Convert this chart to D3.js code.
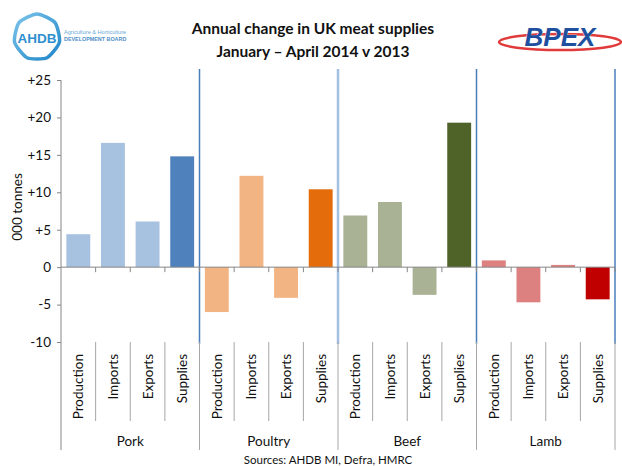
<!DOCTYPE html>
<html>
<head>
<meta charset="utf-8">
<script src="https://cdn.jsdelivr.net/npm/d3@7/dist/d3.min.js"></script>
<style>
  html, body { margin: 0; padding: 0; background: #fff; }
  svg { display: block; font-family: Lato, "Liberation Sans", sans-serif; }
</style>
</head>
<body>
<svg id="chart" width="622" height="466"></svg>
<script>
// Meat types (outer category level) and measures (inner level)
const meats = ["Pork", "Poultry", "Beef", "Lamb"];
const measures = ["Production", "Imports", "Exports", "Supplies"];

// Annual change, Jan–Apr 2014 vs 2013, thousand tonnes
const pork    = [4.4, 16.6, 6.1, 14.8];
const poultry = [-6.0, 12.2, -4.1, 10.4];
const beef    = [6.9, 8.7, -3.7, 19.3];
const lamb    = [0.9, -4.7, 0.3, -4.3];

const yTicks = [-10, -5, 0, 5, 10, 15, 20, 25];

// Light shade for flows, strong shade for total supplies
const lightColours  = ["#a7c1e0", "#f3b483", "#a9b294", "#dc8080"];
const strongColours = ["#4f81bd", "#e46c0a", "#4f6228", "#c00000"];

const seriesByMeat = [pork, poultry, beef, lamb];
const rows = [];
meats.forEach((m, gi) => {
  measures.forEach((k, ki) => {
    rows.push({ meat: m, measure: k, gi, ki, key: m + "|" + k, value: seriesByMeat[gi][ki] });
  });
});

const svg = d3.select("#chart");
const plotLeft = 61, plotRight = 615, plotTop = 80, plotBottom = 342;

const x = d3.scaleBand().domain(rows.map(d => d.key)).range([plotLeft, plotRight])
  .paddingInner(0.31).paddingOuter(0.155);
const step = x.step();
const y = d3.scaleLinear().domain([-10, 25]).range([plotBottom, plotTop]);

// Title
const title = svg.append("text").attr("text-anchor", "middle").attr("font-weight", "bold")
  .attr("font-size", 15.5).attr("fill", "#111");
title.append("tspan").attr("x", 313).attr("y", 34).text("Annual change in UK meat supplies");
title.append("tspan").attr("x", 313).attr("y", 57).text("January – April 2014 v 2013");

// AHDB logo
const ahdb = svg.append("g");
const ringGrad = svg.append("defs").append("linearGradient").attr("id", "ring")
  .attr("x1", 0).attr("y1", 0).attr("x2", 1).attr("y2", 1);
ringGrad.append("stop").attr("offset", 0).attr("stop-color", "#7cc4ea");
ringGrad.append("stop").attr("offset", 1).attr("stop-color", "#1f86c8");
const hexPts = d3.range(7).map(i => {
  const a = -Math.PI / 2 + i * Math.PI * 2 / 7;
  return [37 + 23 * Math.cos(a), 37 + 23 * Math.sin(a)];
});
ahdb.append("path").attr("d", d3.line().curve(d3.curveCardinalClosed.tension(0.35))(hexPts))
  .attr("fill", "none").attr("stroke", "url(#ring)").attr("stroke-width", 3.5);
ahdb.append("text").attr("x", 37).attr("y", 42.5).attr("text-anchor", "middle")
  .attr("font-family", "'Liberation Sans', sans-serif").attr("font-weight", "bold")
  .attr("font-size", 13.5).attr("fill", "#2f8fcf").text("AHDB");
ahdb.append("text").attr("x", 64).attr("y", 34).attr("font-size", 5.6).attr("fill", "#6aa9d8")
  .attr("font-family", "'Liberation Sans', sans-serif").text("Agriculture & Horticulture");
ahdb.append("text").attr("x", 64).attr("y", 41).attr("font-size", 5.4).attr("fill", "#4f8fc9")
  .attr("font-family", "'Liberation Sans', sans-serif").attr("font-weight", "bold").text("DEVELOPMENT BOARD");

// BPEX logo
const bpex = svg.append("g");
bpex.append("ellipse").attr("cx", 560).attr("cy", 42).attr("rx", 61).attr("ry", 8)
  .attr("fill", "none").attr("stroke", "#e03a3a").attr("stroke-width", 2.5);
bpex.append("text").attr("x", 560).attr("y", 46).attr("text-anchor", "middle")
  .attr("font-family", "'Liberation Sans', sans-serif").attr("font-weight", "bold")
  .attr("font-style", "italic").attr("font-size", 26).attr("fill", "#1f50a0")
  .attr("stroke", "#fff").attr("stroke-width", 0.6).attr("paint-order", "stroke").text("BPEX");

// Bars
svg.append("g").selectAll("rect").data(rows).join("rect")
  .attr("x", d => x(d.key))
  .attr("width", x.bandwidth())
  .attr("y", d => y(Math.max(0, d.value)))
  .attr("height", d => Math.abs(y(d.value) - y(0)))
  .attr("fill", d => d.measure === "Supplies" ? strongColours[d.gi] : lightColours[d.gi]);

// Group dividers running through the plot
const groupEdges = meats.map((m, gi) => plotLeft + gi * 4 * step).slice(1).concat([plotRight]);
const dividerStyle = [
  { c: "#4a7ebb", w: 1.5 }, { c: "#a3bfe2", w: 2.5 }, { c: "#4a7ebb", w: 1.5 }, { c: "#4a7ebb", w: 1.5 }
];
svg.append("g").selectAll("line").data(groupEdges).join("line")
  .attr("x1", d => d).attr("x2", d => d)
  .attr("y1", plotTop - 11).attr("y2", plotBottom + 2)
  .attr("stroke", (d, i) => dividerStyle[i].c).attr("stroke-width", (d, i) => dividerStyle[i].w);

// Y axis
const yAxis = svg.append("g").attr("transform", `translate(${plotLeft},0)`)
  .call(d3.axisLeft(y).tickValues(yTicks).tickSize(4).tickPadding(6)
    .tickFormat(d => d > 0 ? "+" + d : String(d)));
yAxis.select(".domain").remove();
yAxis.selectAll(".tick line").attr("stroke", "#868686");
yAxis.selectAll("text").attr("font-size", 13.5).attr("fill", "#111")
  .attr("font-family", "Lato, 'Liberation Sans', sans-serif");
svg.append("line").attr("x1", plotLeft).attr("x2", plotLeft).attr("y1", plotTop).attr("y2", 450)
  .attr("stroke", "#868686");

// Zero line with category ticks
svg.append("line").attr("x1", plotLeft).attr("x2", plotRight).attr("y1", y(0)).attr("y2", y(0))
  .attr("stroke", "#868686");
const catEdges = d3.range(1, rows.length + 1).map(i => plotLeft + i * step);
svg.append("g").selectAll("line").data(catEdges).join("line")
  .attr("x1", d => d).attr("x2", d => d).attr("y1", y(0)).attr("y2", y(0) + 5)
  .attr("stroke", "#868686");

// Multi-level category labels below the plot
const labelTop = plotBottom;
svg.append("g").selectAll("line").data(catEdges).join("line")
  .attr("x1", d => d).attr("x2", d => d)
  .attr("y1", labelTop).attr("y2", (d, i) => (i + 1) % 4 === 0 ? 450 : 421)
  .attr("stroke", "#a6a6a6");

svg.append("g").selectAll("text").data(rows).join("text")
  .attr("transform", d => `translate(${x(d.key) + x.bandwidth() / 2 + 5},${labelTop + 12}) rotate(-90)`)
  .attr("text-anchor", "end").attr("font-size", 13.5).attr("fill", "#111")
  .text(d => d.measure);

svg.append("g").selectAll("text").data(meats).join("text")
  .attr("x", (d, i) => plotLeft + (i * 4 + 2) * step)
  .attr("y", 446).attr("text-anchor", "middle").attr("font-size", 13.5).attr("fill", "#111")
  .text(d => d);

// Axis title
svg.append("text").attr("transform", "translate(22,207) rotate(-90)")
  .attr("text-anchor", "middle").attr("font-size", 13.5).attr("fill", "#111").text("000 tonnes");

// Source note
svg.append("text").attr("x", 328).attr("y", 464).attr("text-anchor", "middle")
  .attr("font-size", 11.5).attr("fill", "#111").text("Sources: AHDB MI, Defra, HMRC");
</script>
</body>
</html>
